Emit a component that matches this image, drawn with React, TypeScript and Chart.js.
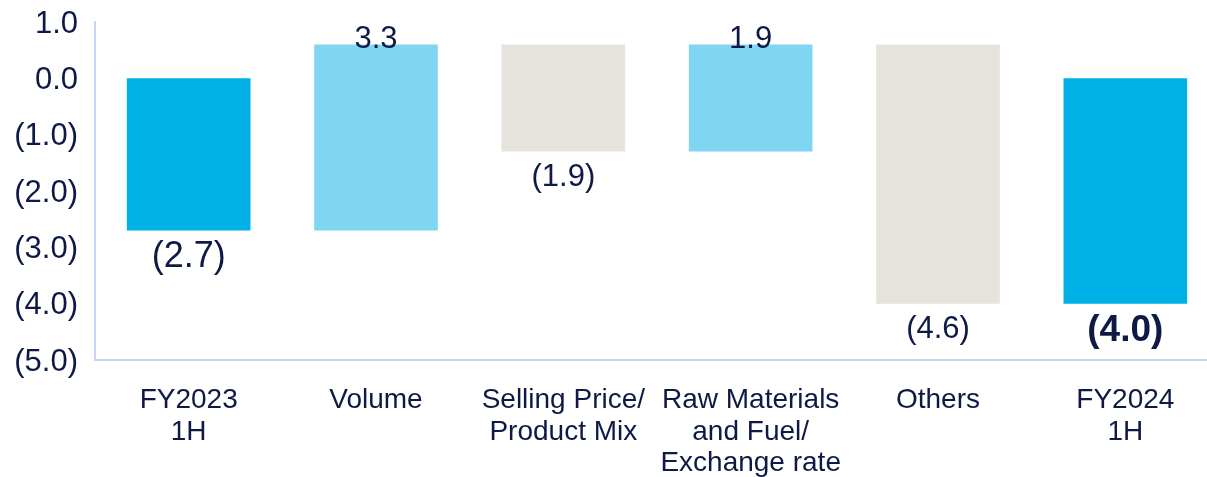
import React, { useEffect, useRef } from "react";
import { Chart, registerables } from "chart.js";

Chart.register(...registerables);

const categories: (string | string[])[] = [
  ["FY2023", "1H"],
  "Volume",
  ["Selling Price/", "Product Mix"],
  ["Raw Materials", "and Fuel/", "Exchange rate"],
  "Others",
  ["FY2024", "1H"],
];
const startTotal = -2.7;
const changes = [3.3, -1.9, 1.9, -4.6];
const endTotal = -4.0;
const yTickValues = [-5, -4, -3, -2, -1, 0, 1];
const yTickLabels = ["(5.0)", "(4.0)", "(3.0)", "(2.0)", "(1.0)", "0.0", "1.0"];

const FONT = '"Liberation Sans", Arial, sans-serif';
const NAVY = "#0E1A45";
const TOTAL_COLOR = "#00B1E7";
const UP_COLOR = "#80D6F2";
const DOWN_COLOR = "#E6E3DD";
const AXIS_COLOR = "#C8D4F6";

function fmt(v: number) {
  const s = Math.abs(v).toFixed(1);
  return v < 0 ? `(${s})` : s;
}

export default function App() {
  const ref = useRef<HTMLCanvasElement | null>(null);

  useEffect(() => {
    if (!ref.current) return;
    const ranges: [number, number][] = [[0, startTotal]];
    const deltas: number[] = [startTotal];
    let run = startTotal;
    for (const c of changes) {
      ranges.push([run, run + c]);
      deltas.push(c);
      run += c;
    }
    ranges.push([0, endTotal]);
    deltas.push(endTotal);
    const colors = deltas.map((d, i) =>
      i === 0 || i === deltas.length - 1 ? TOTAL_COLOR : d >= 0 ? UP_COLOR : DOWN_COLOR
    );

    const labelPlugin = {
      id: "wfLabels",
      afterDatasetsDraw(chart: any) {
        const ctx = chart.ctx;
        const meta = chart.getDatasetMeta(0);
        meta.data.forEach((el: any, i: number) => {
          const d = deltas[i];
          const top = Math.min(el.y, el.base);
          const bottom = Math.max(el.y, el.base);
          const isFirst = i === 0;
          const isLast = i === deltas.length - 1;
          ctx.save();
          ctx.fillStyle = NAVY;
          ctx.textAlign = "center";
          ctx.textBaseline = "alphabetic";
          if (isLast) {
            ctx.font = `bold 37px ${FONT}`;
          } else if (isFirst) {
            ctx.font = `36px ${FONT}`;
          } else {
            ctx.font = `31px ${FONT}`;
          }
          const text = fmt(d);
          if (d < 0) {
            ctx.fillText(text, el.x, bottom + (isFirst || isLast ? 37 : 34));
          } else {
            ctx.fillText(text, el.x, top + 3);
          }
          ctx.restore();
        });
      },
    };

    const chart = new Chart(ref.current, {
      type: "bar",
      data: {
        labels: categories,
        datasets: [
          {
            data: ranges as any,
            backgroundColor: colors,
            borderWidth: 0,
            barPercentage: 0.66,
            categoryPercentage: 1,
          },
        ],
      },
      options: {
        responsive: false,
        animation: false,
        devicePixelRatio: 1,
        layout: { padding: { top: 22, right: 1, left: 0, bottom: 0 } },
        plugins: { legend: { display: false }, tooltip: { enabled: false } },
        scales: {
          x: {
            grid: { display: false, drawTicks: false },
            border: { display: true, color: AXIS_COLOR, width: 2 },
            ticks: {
              color: NAVY,
              font: { family: FONT, size: 28, lineHeight: 1.12 },
              padding: 25,
              autoSkip: false,
              maxRotation: 0,
              minRotation: 0,
            },
            afterFit(scale: any) {
              scale.height = 117;
              scale.paddingLeft = 0;
              scale.paddingRight = 0;
            },
          },
          y: {
            min: -5,
            max: 1,
            grid: { display: false, drawTicks: false },
            border: { display: true, color: AXIS_COLOR, width: 2 },
            afterBuildTicks(scale: any) {
              scale.ticks = yTickValues.map((v) => ({ value: v }));
            },
            ticks: {
              color: NAVY,
              font: { family: FONT, size: 31 },
              padding: 17,
              labelOffset: 2,
              callback: (value: any) => {
                const idx = yTickValues.indexOf(Number(value));
                return idx >= 0 ? yTickLabels[idx] : "";
              },
            },
            afterFit(scale: any) {
              scale.width = 95;
              scale.paddingTop = 0;
              scale.paddingBottom = 0;
            },
          },
        },
      },
      plugins: [labelPlugin],
    });
    return () => chart.destroy();
  }, []);

  return (
    <div
      style={{
        position: "fixed",
        left: 0,
        top: 0,
        width: "100vw",
        height: "100vh",
        overflow: "hidden",
        background: "#fff",
      }}
    >
      <canvas ref={ref} width={1220} height={477} style={{ width: 1220, height: 477, display: "block" }} />
    </div>
  );
}
